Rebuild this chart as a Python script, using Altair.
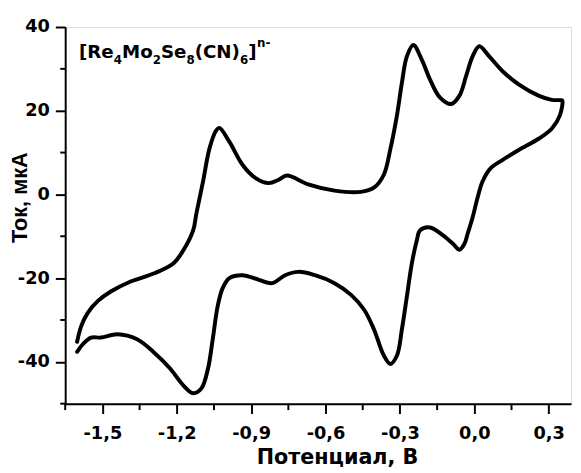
import altair as alt
import pandas as pd

# Forward (anodic) scan, potential in V and current in uA
fwd_x = [-1.602, -1.585, -1.559, -1.519, -1.466, -1.386, -1.293, -1.214, -1.174, -1.134,
         -1.121, -1.094, -1.068, -1.041, -1.028, -0.988, -0.935, -0.882, -0.829, -0.789,
         -0.756, -0.670, -0.564, -0.458, -0.405, -0.365, -0.338, -0.312, -0.292, -0.272,
         -0.246, -0.212, -0.179, -0.139, -0.093, -0.060, -0.033, -0.007, 0.020, 0.060,
         0.113, 0.179, 0.259, 0.312, 0.351]
fwd_y = [-35.2, -31.4, -28.3, -25.5, -23.2, -20.8, -18.9, -16.5, -13.4, -8.6,
         -4.6, 3.1, 11.0, 15.3, 15.9, 12.6, 7.1, 3.9, 2.7, 3.5,
         4.5, 2.4, 0.9, 0.6, 1.6, 4.7, 11.0, 18.9, 26.7, 33.0,
         35.7, 32.2, 27.5, 23.2, 21.6, 23.6, 28.3, 33.0, 35.4, 33.0,
         29.5, 26.3, 23.6, 22.6, 22.5]

# Reverse (cathodic) scan
rev_x = [0.355, 0.345, 0.312, 0.259, 0.179, 0.113, 0.066, 0.033, 0.013, -0.007,
         -0.027, -0.040, -0.060, -0.086, -0.126, -0.179, -0.219, -0.232, -0.252, -0.272,
         -0.292, -0.312, -0.338, -0.365, -0.405, -0.445, -0.497, -0.564, -0.643, -0.710,
         -0.763, -0.816, -0.869, -0.935, -0.988, -1.015, -1.035, -1.055, -1.074, -1.101,
         -1.134, -1.174, -1.227, -1.293, -1.360, -1.439, -1.506, -1.546, -1.579, -1.602]
rev_y = [22.4, 18.9, 15.7, 13.3, 10.6, 8.2, 6.3, 3.1, -0.8, -5.5,
         -9.4, -11.8, -13.2, -11.8, -9.8, -7.9, -8.6, -11.0, -16.5, -24.4,
         -32.2, -38.5, -40.5, -38.5, -32.2, -27.5, -24.0, -21.2, -19.3, -18.5,
         -19.3, -21.2, -20.4, -19.3, -20.0, -22.4, -26.7, -34.6, -41.6, -46.4,
         -47.5, -45.6, -41.6, -37.7, -34.6, -33.4, -34.2, -34.2, -35.8, -37.6]

x_ticks = [-1.5, -1.2, -0.9, -0.6, -0.3, 0.0, 0.3]
x_minor = [-1.65, -1.35, -1.05, -0.75, -0.45, -0.15, 0.15]
y_ticks = [-40, -20, 0, 20, 40]
y_minor = [-50, -30, -10, 10, 30]

x_title = "Потенциал, В"
y_title = "Ток, мкА"

FONT = "DejaVu Sans"
YFONT = "Liberation Sans"
W, H = 513, 382
XDOM = [-1.65, 0.39]
YDOM = [-50, 40]

xs = fwd_x + rev_x
ys = fwd_y + rev_y
df = pd.DataFrame({"E": xs, "I": ys, "i": list(range(len(xs)))})

xscale = alt.Scale(domain=XDOM, nice=False, zero=False)
yscale = alt.Scale(domain=YDOM, nice=False, zero=False)

curve = alt.Chart(df).mark_line(
    color="black", strokeWidth=4, interpolate="catmull-rom",
    strokeCap="round", strokeJoin="round"
).encode(
    x=alt.X("E:Q", scale=xscale, axis=alt.Axis(
        values=x_ticks, title=x_title, grid=False,
        tickSize=10, tickWidth=2, tickColor="black",
        domainWidth=2, domainColor="black",
        labelFont=FONT, labelFontWeight="bold", labelFontSize=18, labelColor="black",
        labelBaseline="alphabetic", labelPadding=25, labelFlush=False,
        labelExpr="replace(replace(format(datum.value, '.1f'), '\u2212', '-'), '.', ',')",
        titleFont=FONT, titleFontWeight="bold", titleFontSize=21, titleColor="black",
        titleX=275.7, titleY=60.5, titleBaseline="alphabetic", titleAlign="center",
    )),
    y=alt.Y("I:Q", scale=yscale, axis=alt.Axis(
        values=y_ticks, title=y_title, grid=False,
        tickSize=10, tickWidth=2, tickColor="black",
        domainWidth=2, domainColor="black",
        labelFont=FONT, labelFontWeight="bold", labelFontSize=18, labelColor="black",
        labelPadding=6,
        labelExpr="replace(format(datum.value, 'd'), '\u2212', '-')",
        titleFont=YFONT, titleFontWeight="bold", titleFontSize=22, titleColor="black",
        titleAngle=270, titleX=-39.3, titleY=172.5, titleBaseline="alphabetic",
        titleAlign="center",
    )),
    order="i:Q",
)

xminor = alt.Chart(pd.DataFrame({"E": x_minor})).mark_rule(
    color="black", strokeWidth=2
).encode(
    x=alt.X("E:Q", scale=xscale),
    y=alt.value(H), y2=alt.value(H + 6.5),
)

yminor = alt.Chart(pd.DataFrame({"I": y_minor})).mark_rule(
    color="black", strokeWidth=2
).encode(
    y=alt.Y("I:Q", scale=yscale),
    x=alt.value(-5), x2=alt.value(0),
)

# Formula label, pieced together for subscripts / superscript
ADV = {"[": 457, "]": 457, "R": 770, "e": 678, "M": 995, "o": 687, "S": 720,
       "(": 457, ")": 457, "C": 734, "N": 837, "n": 712, "-": 415,
       "2": 696, "4": 696, "6": 696, "8": 696}
MAIN, SUB = 18.5, 12
segments = [("[Re", "main"), ("4", "sub"), ("Mo", "main"), ("2", "sub"),
            ("Se", "main"), ("8", "sub"), ("(CN)", "main"), ("6", "sub"),
            ("]", "main"), ("n-", "sup")]
labels = []
cx = 14.0
for t, kind in segments:
    fs = MAIN if kind == "main" else SUB
    py = {"main": 31.7, "sub": 37.5, "sup": 20.5}[kind]
    if kind == "sup":
        cx += 0.5
    labels.append(
        alt.Chart(pd.DataFrame({"t": [t]})).mark_text(
            font=FONT, fontWeight="bold", fontSize=fs, color="black",
            align="left", baseline="alphabetic"
        ).encode(text="t:N", x=alt.value(cx), y=alt.value(py))
    )
    cx += sum(ADV[c] for c in t) / 1000 * fs

chart = alt.layer(curve, xminor, yminor, *labels).properties(
    width=W, height=H,
    autosize=alt.AutoSizeParams(type="none"),
    padding={"left": 58, "top": 16, "right": 2, "bottom": 66},
).configure_view(stroke=None).configure(background="white")

chart.save("out.html", embed_options={"renderer": "svg", "actions": False})
